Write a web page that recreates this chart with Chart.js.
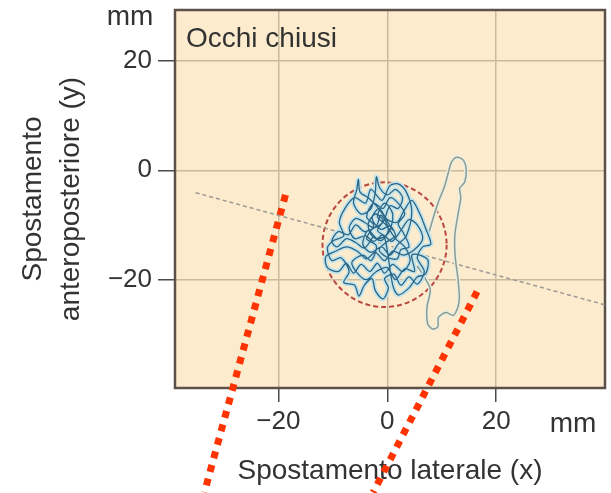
<!DOCTYPE html>
<html>
<head>
<meta charset="utf-8">
<script src="https://cdn.jsdelivr.net/npm/chart.js@4"></script>
<style>
html, body { margin: 0; padding: 0; background: #fff; }
canvas { display: block; }
</style>
</head>
<body>
<canvas id="grafico" width="611" height="493"></canvas>
<script>
// assi (mm)
var tickX = [-20, 0, 20];
var tickY = [-20, 0, 20];
var rangeX = [-39, 40];
var rangeY = [-39.8, 29.3];

// tracciato dello statocinesigramma, parte centrale (mm)
var swayX = [1.0, -0.5, -2.0, -3.5, -5.0, -5.3, -5.6, -6.2, -4.8, -3.0, -2.2, -2.0, -1.4, 0.0, 1.5, 2.8, 2.0, 0.5, -0.8, -2.5,
  -4.2, -5.8, -7.0, -6.0, -4.0, -2.5, -0.8, 0.8, 2.5, 4.0, 5.5, 6.5, 5.0, 3.0, 1.0, -0.5, -2.2, -3.8, -5.5, -7.5,
  -9.5, -11.3, -11.0, -9.0, -7.5, -6.2, -4.8, -3.2, -1.8, -0.5, 1.0, 2.8, 4.2, 3.2, 1.5, -0.2, -1.8, -0.5, 1.0, 0.2,
  -1.8, -3.5, -4.5, -3.0, -1.0, 0.5, 2.0, 3.5, 4.5, 3.5, 2.0, 0.5, -1.0, -3.0, -4.0, -6.0, -7.8, -8.8, -8.0, -9.8,
  -11.0, -10.2, -8.5, -7.0, -8.0, -6.0, -5.2, -4.2, -2.8, -2.2, -0.8, 0.2, -0.5, 1.2, 2.5, 4.0, 5.5, 6.8, 5.5, 6.5,
  8.0, 7.0, 6.0, 4.5, 3.0, 1.8, 0.0, -1.5, -2.8, -1.2, 0.5, 1.5, 0.0, -1.5, -0.2, 1.8,
  2.5, 4.0, 3.0, 2.0, 3.2, 2.0, 0.5, -0.8, -2.5, -3.8, -2.5, -3.8, -2.0, -3.0, -4.5, -6.5, -5.5, -3.8, -2.0, 0.0,
  1.5, 3.2, 5.0, 4.5, 6.0, 7.5, 7.0, 5.5, 4.0, 2.0, 1.0, -0.5, -1.8, -0.8, -2.2, -3.5, -2.8, -1.0, 0.2, -1.2,
  -2.0, -4.2, -5.8, -7.2, -9.0, -10.2, -9.2, -7.5, -5.8, -4.2, -2.5];
var swayY = [-11.0, -8.5, -6.5, -5.0, -4.0, -1.7, -3.5, -6.0, -8.0, -7.0, -4.0, -1.2, -3.2, -4.5, -3.5, -5.0, -7.0, -6.5, -9.5, -10.5,
  -9.5, -8.8, -10.5, -12.5, -12.0, -13.0, -11.8, -13.0, -11.0, -9.0, -10.0, -12.5, -14.5, -15.5, -14.8, -16.5, -15.0, -16.2, -14.8, -14.0,
  -14.8, -15.8, -17.8, -18.5, -17.0, -18.8, -17.2, -18.5, -17.0, -18.8, -17.2, -18.5, -16.5, -14.0, -12.5, -10.0, -8.5, -6.0, -8.0, -11.5,
  -12.5, -11.0, -13.5, -15.0, -14.0, -15.5, -13.5, -12.0, -7.5, -4.0, -2.5, -2.8, -5.5, -3.5, -6.0, -5.0, -7.0, -9.5, -12.0, -12.8,
  -14.2, -16.5, -16.0, -18.5, -20.5, -21.0, -23.0, -21.0, -19.8, -22.0, -23.5, -21.5, -19.8, -19.0, -21.0, -19.5, -20.8, -18.5, -16.0, -14.0,
  -13.5, -10.5, -8.0, -5.5, -7.5, -9.5, -9.0, -7.0, -8.8, -10.8, -10.2, -12.0, -13.0, -14.5, -15.8, -16.2,
  -14.5, -14.0, -11.5, -9.8, -8.0, -6.0, -5.0, -7.0, -6.0, -8.5, -10.0, -12.5, -13.8, -16.5, -15.5, -16.8, -18.8, -20.0, -18.5, -17.8,
  -20.0, -18.0, -18.5, -15.5, -15.5, -16.5, -19.0, -19.5, -21.5, -22.8, -21.0, -12.2, -11.0, -9.2, -8.0, -9.8, -12.0, -12.8, -10.8, -8.2,
  -10.2, -11.2, -10.0, -11.8, -11.2, -13.0, -14.0, -12.5, -13.2, -14.2, -12.0];

// escursione verso destra (mm)
var loopX = [7.5, 8.5, 9.5, 10.5, 11.2, 11.8, 12.8, 14.0, 14.5, 14.2, 13.3, 13.5, 13.0, 12.4, 12.5, 13.0, 13.2, 12.2, 10.8, 9.4,
  9.3, 8.3, 7.4, 7.3, 7.9, 6.8, 5.5];
var loopY = [-12.0, -8.5, -5.5, -3.0, -0.5, 1.5, 2.4, 1.8, 0.0, -2.2, -3.3, -5.0, -8.0, -12.0, -16.0, -20.0, -24.0, -26.5, -26.0, -26.9,
  -28.6, -29.0, -28.0, -25.0, -21.8, -19.5, -17.5];

// retta di regressione
var trendX = [-35.2, 40];
var trendY = [-4.1, -24.6];

// cerchio dell'area di oscillazione
var circleCenter = [-0.5, -13.6];
var circleRadius = 11.4;

// linee rosse puntinate
var mark1X = [-18.7, -33.6];
var mark1Y = [-4.5, -58.9];
var mark2X = [16.5, -2.6];
var mark2Y = [-22.2, -58.9];

function pts(xs, ys) {
  return xs.map(function (x, i) { return { x: x, y: ys[i] }; });
}
function fmt(v) {
  return v < 0 ? '\u2212' + Math.abs(v) : String(v);
}

var FONT = 'Liberation Sans, Arial, Helvetica, sans-serif';

var sfondo = {
  id: 'sfondo',
  beforeDraw: function (chart) {
    var a = chart.chartArea, ctx = chart.ctx;
    ctx.save();
    ctx.fillStyle = '#fcebcd';
    ctx.fillRect(a.left, a.top, a.right - a.left, a.bottom - a.top);
    ctx.restore();
  },
  beforeDatasetsDraw: function (chart) {
    var a = chart.chartArea, ctx = chart.ctx;
    var sx = chart.scales.x, sy = chart.scales.y;
    ctx.save();
    ctx.strokeStyle = '#5b5148';
    ctx.lineWidth = 2.5;
    ctx.strokeRect(a.left, a.top, a.right - a.left, a.bottom - a.top);
    // cerchio
    var cx = sx.getPixelForValue(circleCenter[0]);
    var cy = sy.getPixelForValue(circleCenter[1]);
    var rx = Math.abs(sx.getPixelForValue(circleCenter[0] + circleRadius) - cx);
    var ry = Math.abs(sy.getPixelForValue(circleCenter[1] + circleRadius) - cy);
    ctx.beginPath();
    ctx.ellipse(cx, cy, rx, ry, 0, 0, Math.PI * 2);
    ctx.strokeStyle = '#b8473f';
    ctx.lineWidth = 2;
    ctx.setLineDash([5, 3]);
    ctx.stroke();
    ctx.restore();
  },
  afterDraw: function (chart) {
    var a = chart.chartArea, ctx = chart.ctx;
    ctx.save();
    ctx.fillStyle = '#333';
    ctx.font = '28px ' + FONT;
    ctx.textBaseline = 'alphabetic';
    ctx.textAlign = 'left';
    ctx.fillText('Occhi chiusi', a.left + 11, a.top + 37);
    ctx.textAlign = 'center';
    ctx.fillText('mm', a.left - 45, a.top + 15);
    ctx.fillText('mm', a.right - 32, a.bottom + 44);
    ctx.restore();
  }
};

var ctx = document.getElementById('grafico').getContext('2d');
var chart = new Chart(ctx, {
  type: 'scatter',
  data: {
    datasets: [{
      data: pts(mark1X, mark1Y),
      showLine: true, clip: false, pointRadius: 0,
      borderColor: '#ff3300', borderWidth: 7, borderDash: [7, 7], borderCapStyle: 'butt'
    }, {
      data: pts(mark2X, mark2Y),
      showLine: true, clip: false, pointRadius: 0,
      borderColor: '#ff3300', borderWidth: 7, borderDash: [7, 7], borderCapStyle: 'butt'
    }, {
      data: pts(swayX, swayY),
      showLine: true, pointRadius: 0, tension: 0.3,
      borderColor: '#2a6586', borderWidth: 1.3
    }, {
      data: pts(swayX, swayY),
      showLine: true, pointRadius: 0, tension: 0.3,
      borderColor: 'rgba(192,228,236,0.95)', borderWidth: 5
    }, {
      data: pts(loopX, loopY),
      showLine: true, pointRadius: 0, tension: 0.3,
      borderColor: '#8c9a94', borderWidth: 1.5
    }, {
      data: pts(loopX, loopY),
      showLine: true, pointRadius: 0, tension: 0.3,
      borderColor: 'rgba(232,240,226,0.9)', borderWidth: 4.5
    }, {
      data: pts(trendX, trendY),
      showLine: true, pointRadius: 0,
      borderColor: '#9b9a94', borderWidth: 1.5, borderDash: [4, 3]
    }]
  },
  options: {
    responsive: false,
    animation: false,
    layout: { padding: { top: 10, right: 6, left: 0, bottom: 0 } },
    plugins: { legend: { display: false }, tooltip: { enabled: false } },
    scales: {
      x: {
        type: 'linear',
        min: rangeX[0], max: rangeX[1],
        afterBuildTicks: function (s) { s.ticks = tickX.map(function (v) { return { value: v }; }); },
        afterFit: function (s) { s.height = 105; s.paddingLeft = 0; s.paddingRight = 0; },
        grid: { color: '#c9bb9f', lineWidth: 1.5, tickLength: 14, tickColor: '#4a4a4a', tickWidth: 1.5 },
        border: { display: false },
        ticks: { padding: 4, color: '#333', font: { family: FONT, size: 26 }, callback: fmt },
        title: {
          display: true, text: 'Spostamento laterale (x)', color: '#333',
          font: { family: FONT, size: 28 }, padding: { top: 0, bottom: 5 }
        }
      },
      y: {
        type: 'linear',
        min: rangeY[0], max: rangeY[1],
        afterBuildTicks: function (s) { s.ticks = tickY.map(function (v) { return { value: v }; }); },
        afterFit: function (s) { s.width = 175; s.paddingTop = 0; s.paddingBottom = 0; },
        grid: { color: '#c9bb9f', lineWidth: 1.5, tickLength: 17, tickColor: '#4a4a4a', tickWidth: 1.5 },
        border: { display: false },
        ticks: { padding: 6, color: '#333', font: { family: FONT, size: 26 }, callback: fmt },
        title: {
          display: true, text: ['Spostamento', 'anteroposteriore (y)'], color: '#333',
          font: { family: FONT, size: 28, lineHeight: 1.36 }, padding: { top: 14, bottom: 0 }
        }
      }
    }
  },
  plugins: [sfondo]
});
</script>
</body>
</html>
